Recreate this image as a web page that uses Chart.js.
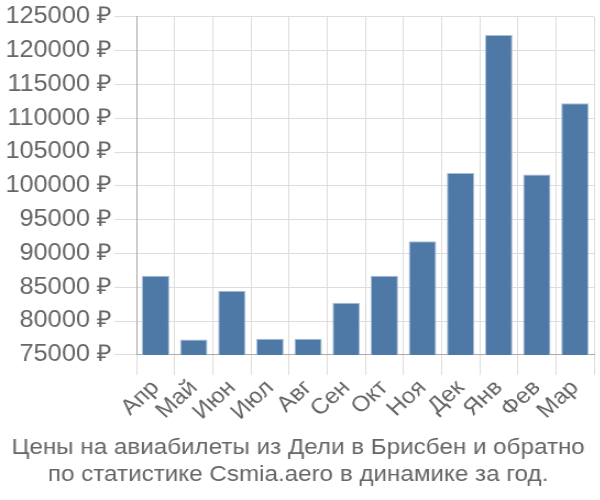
<!DOCTYPE html>
<html><head><meta charset="utf-8">
<script src="https://cdn.jsdelivr.net/npm/chart.js@4/dist/chart.umd.min.js"></script>
<style>html,body{margin:0;padding:0;background:#fff;overflow:hidden}#w{width:545px;height:500px;transform:scaleX(1.1);transform-origin:0 0}</style>
</head><body><div id="w"><canvas id="c"></canvas></div>
<script>
const categories = ["Апр","Май","Июн","Июл","Авг","Сен","Окт","Ноя","Дек","Янв","Фев","Мар"];
const prices = [86700, 77300, 84500, 77400, 77400, 82700, 86700, 91800, 101900, 122300, 101700, 112200];
const titleLines = ["Цены на авиабилеты из Дели в Брисбен и обратно","по статистике Csmia.aero в динамике за год."];
const yMin = 75000, yMax = 125000, yStep = 5000;
const font = "'Liberation Sans', Arial, sans-serif";
new Chart(document.getElementById('c'), {
  type: 'bar',
  data: { labels: categories, datasets: [{ data: prices, backgroundColor: '#4e79a7', borderColor: '#a9bfd9', borderWidth: 1 }] },
  options: {
    responsive: true, maintainAspectRatio: false, animation: false,
    layout: { padding: { left: 2, right: 5, top: 3, bottom: 0 } },
    plugins: {
      legend: { display: false }, tooltip: { enabled: false },
      title: { display: true, position: 'bottom', text: titleLines, color: '#666', font: { family: font, size: 22, weight: 'normal' }, padding: { top: 10, bottom: 12 }, lineHeight: 1.2 }
    },
    scales: {
      x: {
        grid: { color: '#ddd', lineWidth: 1, tickLength: 20, offset: true },
        border: { color: '#aaa' },
        ticks: { color: '#666', font: { family: font, size: 22 }, maxRotation: 45, minRotation: 45, padding: 0, autoSkip: false }
      },
      y: {
        min: yMin, max: yMax,
        grid: { color: '#ddd', lineWidth: 1, tickLength: 20 },
        border: { color: '#aaa' },
        ticks: { stepSize: yStep, color: '#666', font: { family: font, size: 23 }, padding: 3, callback: v => v + ' ₽' }
      }
    }
  }
});
</script></body></html>
